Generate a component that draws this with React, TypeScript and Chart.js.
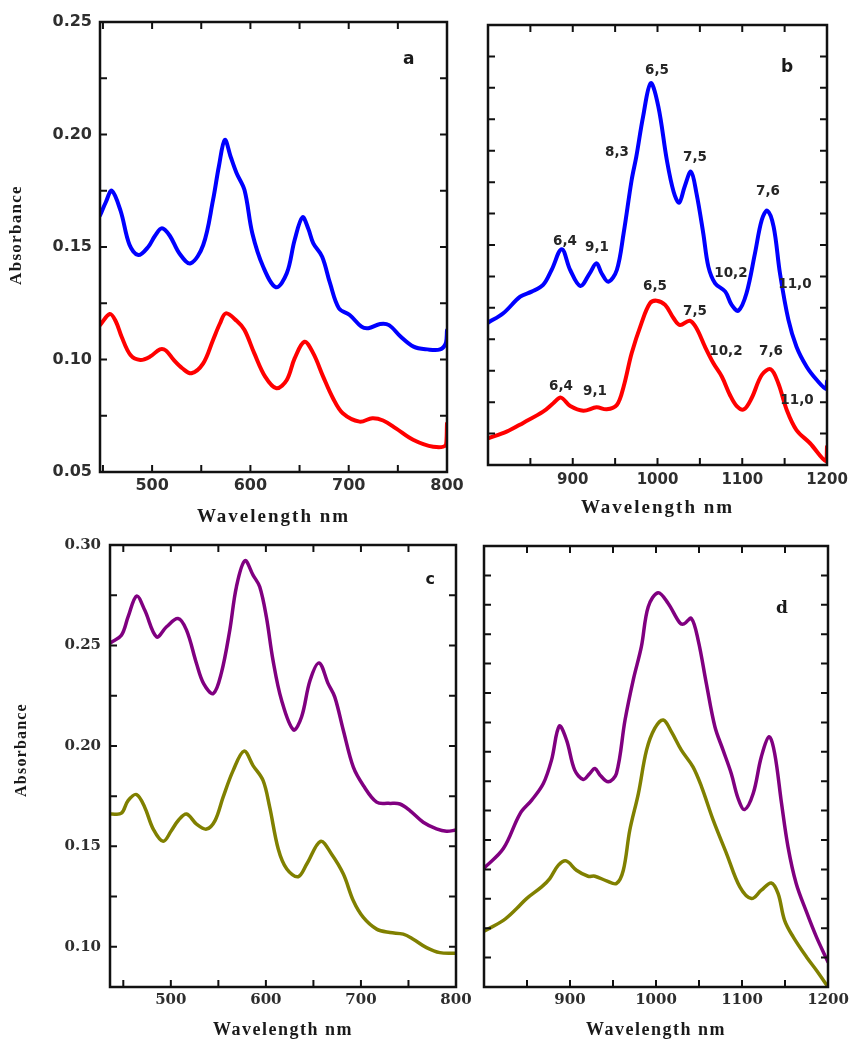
import React, { useEffect, useRef } from "react";
import { Chart, registerables } from "chart.js";

Chart.register(...registerables);

// ---------- (a) visible region, two samples ----------
const aBlueNm = [447, 453, 459, 468, 477, 486, 496, 503, 510, 518, 528, 539, 552, 562, 568, 574, 580, 586, 594, 602, 613, 626, 637, 645, 653, 659, 664, 673, 681, 690, 701, 713, 720, 732, 741, 753, 766, 780, 793, 799, 800];
const aBlueAbs = [0.164, 0.170, 0.175, 0.166, 0.151, 0.1464, 0.150, 0.155, 0.1583, 0.155, 0.147, 0.1427, 0.1509, 0.1709, 0.186, 0.1976, 0.190, 0.1828, 0.1753, 0.156, 0.1412, 0.1321, 0.1383, 0.1531, 0.1632, 0.158, 0.1516, 0.1457, 0.1339, 0.1228, 0.1198, 0.1146, 0.1139, 0.1158, 0.1153, 0.1101, 0.1057, 0.1045, 0.1045, 0.1075, 0.113];
const aRedNm = [447, 457, 463, 469, 478, 488, 498, 508, 514, 522, 531, 540, 552, 562, 569, 575, 586, 594, 604, 615, 626.5, 637, 645, 655, 664, 674, 684, 694, 711, 724, 735, 748, 766, 786, 799, 800];
const aRedAbs = [0.1153, 0.1202, 0.117, 0.1101, 0.102, 0.0998, 0.1013, 0.1045, 0.104, 0.0998, 0.096, 0.0939, 0.0983, 0.1087, 0.116, 0.1205, 0.1172, 0.1131, 0.1027, 0.0924, 0.0872, 0.0909, 0.1005, 0.1079, 0.1027, 0.0924, 0.0828, 0.0761, 0.0724, 0.0739, 0.0729, 0.0694, 0.0642, 0.0612, 0.0621, 0.0716];

// ---------- (b) near-infrared region, two samples ----------
const bBlueNm = [800, 818, 838, 851.5, 865, 875, 887, 897, 909, 920, 928, 934, 942, 952, 960, 969.5, 975, 983, 992, 1001, 1011, 1019, 1025.5, 1032, 1039.5, 1046, 1054, 1060, 1068, 1080, 1087.5, 1095.5, 1105, 1115, 1123, 1129.5, 1137, 1144.5, 1154.5, 1164, 1176, 1188, 1199, 1200];
const bBlueAbs = [0.1632, 0.1707, 0.1839, 0.1879, 0.1932, 0.2051, 0.2216, 0.2051, 0.1924, 0.2025, 0.2105, 0.2025, 0.1958, 0.2051, 0.2343, 0.2767, 0.2953, 0.3271, 0.3537, 0.3351, 0.2926, 0.2674, 0.2587, 0.2714, 0.2833, 0.2661, 0.2343, 0.2078, 0.1945, 0.1879, 0.1773, 0.1728, 0.1866, 0.2184, 0.2449, 0.2523, 0.2396, 0.2025, 0.1654, 0.1441, 0.1282, 0.1176, 0.1105, 0.1166];
const bRedNm = [800, 822, 842, 865, 877, 886, 897, 912.5, 928, 940, 952, 960, 969.5, 981, 991, 999, 1009, 1019, 1026.5, 1038, 1046, 1056, 1066, 1076, 1085.5, 1093.5, 1102, 1111, 1123, 1133.5, 1142.5, 1152.5, 1164, 1180, 1199, 1200];
const bRedAbs = [0.0712, 0.0765, 0.0837, 0.0924, 0.0991, 0.1036, 0.0969, 0.0932, 0.0959, 0.0943, 0.0977, 0.1123, 0.1389, 0.1627, 0.1786, 0.1807, 0.1773, 0.1667, 0.1614, 0.1648, 0.1588, 0.1441, 0.1309, 0.1202, 0.1057, 0.0969, 0.0943, 0.1031, 0.1216, 0.1261, 0.115, 0.0938, 0.0778, 0.0673, 0.053, 0.0646];

// (n,m) assignments written next to the peaks in (b)
const bNoteText = ["6,5", "8,3", "7,5", "7,6", "6,4", "9,1", "10,2", "11,0", "6,5", "7,5", "10,2", "7,6", "6,4", "9,1", "11,0"];
const bNoteNm = [999.4, 952.2, 1044.2, 1130.4, 890.9, 928.6, 1086.7, 1162.2, 997, 1044.2, 1080.8, 1133.9, 886.1, 926.3, 1164.6];
const bNoteAbs = [0.3642, 0.2982, 0.295, 0.2672, 0.2274, 0.2234, 0.2027, 0.1932, 0.1916, 0.1725, 0.1399, 0.1399, 0.1121, 0.1081, 0.1017];

// ---------- (c) visible region, second pair ----------
const cPurpleNm = [437, 448, 455, 464, 472.5, 485, 495.5, 507.5, 516.5, 527, 534.5, 544.5, 553, 562, 569, 578, 586.5, 593.5, 600.5, 607.5, 616.5, 629, 637.5, 646.5, 656, 665.5, 672.5, 681.5, 692, 702.5, 716.5, 729, 741, 751.5, 765.5, 779.5, 790, 800];
const cPurpleAbs = [0.2515, 0.2551, 0.2642, 0.2746, 0.2676, 0.2543, 0.2593, 0.2634, 0.2576, 0.241, 0.231, 0.226, 0.236, 0.2576, 0.2792, 0.2922, 0.285, 0.2792, 0.2642, 0.2426, 0.2227, 0.208, 0.2144, 0.2327, 0.2413, 0.231, 0.2243, 0.2077, 0.1894, 0.1803, 0.172, 0.1714, 0.1711, 0.1678, 0.162, 0.1587, 0.1575, 0.1581];
const cOliveNm = [437, 448, 455, 464, 472.5, 481.5, 492, 500.5, 508, 516.5, 527, 537.5, 546.5, 555, 565.5, 577, 586.5, 597, 604, 613, 622, 634, 643, 657.5, 669, 681.5, 692, 702.5, 716.5, 730.5, 744.5, 755, 769, 783, 800];
const cOliveAbs = [0.1661, 0.1665, 0.1728, 0.1758, 0.1695, 0.1586, 0.1525, 0.1578, 0.163, 0.1661, 0.1611, 0.1586, 0.1628, 0.1745, 0.1877, 0.1974, 0.1902, 0.1828, 0.1695, 0.1487, 0.1387, 0.1349, 0.1412, 0.1525, 0.1462, 0.1362, 0.1229, 0.1146, 0.1088, 0.1071, 0.1063, 0.1038, 0.0996, 0.0971, 0.0968];

// ---------- (d) near-infrared region, second pair ----------
const dPurpleNm = [800, 822.5, 842, 855.5, 869, 878.5, 887.5, 896, 905.5, 915.5, 923, 929, 935, 944.5, 954, 964, 973.5, 983, 991, 1002.5, 1014, 1027.5, 1032.5, 1041, 1049, 1058.5, 1068.5, 1078, 1087.5, 1095.5, 1103, 1113, 1122.5, 1131.5, 1138, 1146, 1153.5, 1163, 1175, 1186.5, 1200];
const dPurpleAbs = [0.176, 0.1927, 0.2225, 0.2339, 0.248, 0.2679, 0.2968, 0.2849, 0.2594, 0.2515, 0.2566, 0.2608, 0.2551, 0.2495, 0.2566, 0.302, 0.336, 0.3644, 0.3984, 0.4103, 0.4013, 0.3848, 0.3837, 0.3885, 0.37, 0.3332, 0.2963, 0.2764, 0.2566, 0.2353, 0.2259, 0.2395, 0.2708, 0.2878, 0.2736, 0.231, 0.1942, 0.163, 0.1388, 0.1176, 0.0963];
const dOliveNm = [800, 822.5, 838, 849.5, 867, 876.5, 886.5, 895.5, 907.5, 921, 929, 942.5, 954, 962, 969.5, 979.5, 989, 998.5, 1008.5, 1018, 1029.5, 1043, 1053, 1066.5, 1082, 1097.5, 1111, 1122.5, 1134, 1142, 1149.5, 1159.5, 1175, 1186.5, 1200];
const dOliveAbs = [0.1225, 0.1317, 0.1417, 0.1502, 0.1601, 0.1672, 0.1786, 0.1822, 0.1743, 0.1692, 0.1692, 0.1652, 0.163, 0.1743, 0.2083, 0.2395, 0.2764, 0.2949, 0.302, 0.292, 0.2764, 0.2622, 0.2452, 0.2169, 0.1885, 0.1601, 0.1502, 0.1573, 0.1635, 0.1544, 0.1317, 0.1176, 0.1005, 0.0892, 0.075];

// ---------- axis tick labels ----------
const aXTicks = [500, 600, 700, 800];
const aYTicks = [0.05, 0.1, 0.15, 0.2, 0.25];
const bXTicks = [900, 1000, 1100, 1200];
const cXTicks = [500, 600, 700, 800];
const cYTicks = [0.1, 0.15, 0.2, 0.25, 0.3];
const dXTicks = [900, 1000, 1100, 1200];

type Series = { nm: number[]; abs: number[]; color: string };
type Note = { text: string; nm: number; abs: number };

type PanelSpec = {
  key: string;
  left: number;
  top: number;
  w: number;
  h: number;
  yWidth: number;
  xHeight: number;
  padTop: number;
  padRight: number;
  xMin: number;
  xMax: number;
  yMin: number;
  yMax: number;
  xTicks: number[];
  yTicks: number[] | null;
  xPad: number;
  yPad: number;
  tickFont: { family: string; size: number; weight: string };
  lineWidth: number;
  series: Series[];
  letter: string;
  letterNm: number;
  letterAbs: number;
  letterFont: string;
  xTitleOffset: number;
  xTitleFont: string;
  xTitleSpacing: number;
  yTitle: boolean;
  yTitleOffset: number;
  yTitleShift: number;
  yTitleFont: string;
  yTitleSpacing: number;
  notes: Note[];
};

const BLUE = "#0000ff";
const RED = "#ff0000";
const PURPLE = "#800080";
const OLIVE = "#808000";

const sansTicks = { family: "'DejaVu Sans', sans-serif", size: 16, weight: "bold" };
const sansTicksB = { family: "'DejaVu Sans', sans-serif", size: 15, weight: "bold" };
const serifTicks = { family: "'DejaVu Serif', serif", size: 15, weight: "bold" };

const bNotes: Note[] = bNoteText.map((text, i) => ({ text, nm: bNoteNm[i], abs: bNoteAbs[i] }));

const panels: PanelSpec[] = [
  {
    key: "a", left: 0, top: 0, w: 475, h: 530,
    yWidth: 100, xHeight: 58, padTop: 22, padRight: 28,
    xMin: 447, xMax: 800, yMin: 0.05, yMax: 0.25,
    xTicks: aXTicks, yTicks: aYTicks, xPad: 4, yPad: 8,
    tickFont: sansTicks, lineWidth: 4,
    series: [
      { nm: aBlueNm, abs: aBlueAbs, color: BLUE },
      { nm: aRedNm, abs: aRedAbs, color: RED },
    ],
    letter: "a", letterNm: 761, letterAbs: 0.2331, letterFont: "bold 17px 'DejaVu Sans', sans-serif",
    xTitleOffset: 45, xTitleFont: "bold 19px 'Liberation Serif', serif", xTitleSpacing: 2,
    yTitle: true, yTitleOffset: 83, yTitleShift: -12, yTitleFont: "bold 17px 'Liberation Serif', serif", yTitleSpacing: 1.3,
    notes: [],
  },
  {
    key: "b", left: 465, top: 0, w: 386, h: 530,
    yWidth: 23, xHeight: 65, padTop: 25, padRight: 24,
    xMin: 800, xMax: 1200, yMin: 0.05, yMax: 0.4,
    xTicks: bXTicks, yTicks: null, xPad: 6, yPad: 8,
    tickFont: sansTicksB, lineWidth: 4,
    series: [
      { nm: bBlueNm, abs: bBlueAbs, color: BLUE },
      { nm: bRedNm, abs: bRedAbs, color: RED },
    ],
    letter: "b", letterNm: 1152.8, letterAbs: 0.3658, letterFont: "bold 17px 'DejaVu Sans', sans-serif",
    xTitleOffset: 43, xTitleFont: "bold 19px 'Liberation Serif', serif", xTitleSpacing: 2,
    yTitle: false, yTitleOffset: 0, yTitleShift: 0, yTitleFont: "", yTitleSpacing: 0,
    notes: bNotes,
  },
  {
    key: "c", left: 0, top: 530, w: 475, h: 515,
    yWidth: 110, xHeight: 58, padTop: 15, padRight: 19,
    xMin: 436, xMax: 800, yMin: 0.08, yMax: 0.3,
    xTicks: cXTicks, yTicks: cYTicks, xPad: 4, yPad: 9,
    tickFont: serifTicks, lineWidth: 3.5,
    series: [
      { nm: cPurpleNm, abs: cPurpleAbs, color: PURPLE },
      { nm: cOliveNm, abs: cOliveAbs, color: OLIVE },
    ],
    letter: "c", letterNm: 772.8, letterAbs: 0.2826, letterFont: "bold 16px 'DejaVu Sans', sans-serif",
    xTitleOffset: 43, xTitleFont: "bold 18px 'Liberation Serif', serif", xTitleSpacing: 1.5,
    yTitle: true, yTitleOffset: 88, yTitleShift: -16, yTitleFont: "bold 16px 'Liberation Serif', serif", yTitleSpacing: 1.2,
    notes: [],
  },
  {
    key: "d", left: 465, top: 530, w: 386, h: 515,
    yWidth: 19, xHeight: 58, padTop: 16, padRight: 23,
    xMin: 800, xMax: 1200, yMin: 0.075, yMax: 0.45,
    xTicks: dXTicks, yTicks: null, xPad: 4, yPad: 8,
    tickFont: serifTicks, lineWidth: 3.5,
    series: [
      { nm: dPurpleNm, abs: dPurpleAbs, color: PURPLE },
      { nm: dOliveNm, abs: dOliveAbs, color: OLIVE },
    ],
    letter: "d", letterNm: 1146.5, letterAbs: 0.3964, letterFont: "bold 17px 'DejaVu Serif', serif",
    xTitleOffset: 43, xTitleFont: "bold 18px 'Liberation Serif', serif", xTitleSpacing: 1.5,
    yTitle: false, yTitleOffset: 0, yTitleShift: 0, yTitleFont: "", yTitleSpacing: 0,
    notes: [],
  },
];

// Closed frame around the plot area with inward tick marks on all four sides
function framePlugin(xStep: number, yStep: number) {
  return {
    id: "frameTicks",
    afterDraw(chart: any) {
      const { ctx, chartArea: ca, scales } = chart;
      const x = scales.x;
      const y = scales.y;
      const len = 7;
      ctx.save();
      ctx.strokeStyle = "#111";
      ctx.lineWidth = 2;
      ctx.beginPath();
      const xi0 = Math.ceil(x.min / xStep - 1e-6);
      const xi1 = Math.floor(x.max / xStep + 1e-6);
      for (let i = xi0; i <= xi1; i++) {
        const px = x.getPixelForValue(i * xStep);
        ctx.moveTo(px, ca.bottom);
        ctx.lineTo(px, ca.bottom - len);
        ctx.moveTo(px, ca.top);
        ctx.lineTo(px, ca.top + len);
      }
      const yi0 = Math.ceil(y.min / yStep - 1e-6);
      const yi1 = Math.floor(y.max / yStep + 1e-6);
      for (let i = yi0; i <= yi1; i++) {
        const py = y.getPixelForValue(i * yStep);
        ctx.moveTo(ca.left, py);
        ctx.lineTo(ca.left + len, py);
        ctx.moveTo(ca.right, py);
        ctx.lineTo(ca.right - len, py);
      }
      ctx.stroke();
      ctx.lineWidth = 2.5;
      ctx.strokeRect(ca.left, ca.top, ca.right - ca.left, ca.bottom - ca.top);
      ctx.restore();
    },
  };
}

// Axis titles, panel letter and peak assignments
function textPlugin(spec: PanelSpec) {
  return {
    id: "panelText",
    afterDraw(chart: any) {
      const { ctx, chartArea: ca, scales } = chart;
      const x = scales.x;
      const y = scales.y;
      ctx.save();
      ctx.fillStyle = "#1a1a1a";
      ctx.textAlign = "center";
      ctx.textBaseline = "middle";

      ctx.font = spec.xTitleFont;
      (ctx as any).letterSpacing = spec.xTitleSpacing + "px";
      ctx.fillText("Wavelength nm", (ca.left + ca.right) / 2, ca.bottom + spec.xTitleOffset);

      if (spec.yTitle) {
        ctx.save();
        ctx.font = spec.yTitleFont;
        (ctx as any).letterSpacing = spec.yTitleSpacing + "px";
        ctx.translate(ca.left - spec.yTitleOffset, (ca.top + ca.bottom) / 2 + spec.yTitleShift);
        ctx.rotate(-Math.PI / 2);
        ctx.fillText("Absorbance", 0, 0);
        ctx.restore();
      }

      (ctx as any).letterSpacing = "0px";
      ctx.font = spec.letterFont;
      ctx.fillText(spec.letter, x.getPixelForValue(spec.letterNm), y.getPixelForValue(spec.letterAbs));

      ctx.fillStyle = "#262626";
      ctx.font = "bold 13.5px 'DejaVu Sans', sans-serif";
      for (const n of spec.notes) {
        ctx.fillText(n.text, x.getPixelForValue(n.nm), y.getPixelForValue(n.abs));
      }
      ctx.restore();
    },
  };
}

function buildConfig(spec: PanelSpec): any {
  const tickColor = "#2e2e2e";
  return {
    type: "line",
    data: {
      datasets: spec.series.map((s) => ({
        data: s.nm.map((nm, i) => ({ x: nm, y: s.abs[i] })),
        borderColor: s.color,
        backgroundColor: s.color,
        borderWidth: spec.lineWidth,
        pointRadius: 0,
        tension: 0.35,
        fill: false,
        borderJoinStyle: "round",
        borderCapStyle: "round",
      })),
    },
    options: {
      animation: false,
      responsive: false,
      maintainAspectRatio: false,
      events: [],
      layout: {
        autoPadding: false,
        padding: { left: 0, top: spec.padTop, right: spec.padRight, bottom: 0 },
      },
      plugins: {
        legend: { display: false },
        tooltip: { enabled: false },
        title: { display: false },
      },
      scales: {
        x: {
          type: "linear",
          min: spec.xMin,
          max: spec.xMax,
          grid: { display: false, drawTicks: false },
          border: { display: false },
          ticks: {
            autoSkip: false,
            maxRotation: 0,
            minRotation: 0,
            padding: spec.xPad,
            color: tickColor,
            font: spec.tickFont,
            callback: (v: number) => String(Math.round(v)),
          },
          afterBuildTicks: (scale: any) => {
            scale.ticks = spec.xTicks.map((v) => ({ value: v }));
          },
          afterFit: (scale: any) => {
            scale.height = spec.xHeight;
            scale.paddingLeft = 0;
            scale.paddingRight = 0;
          },
        },
        y: {
          type: "linear",
          min: spec.yMin,
          max: spec.yMax,
          grid: { display: false, drawTicks: false },
          border: { display: false },
          ticks: {
            display: spec.yTicks !== null,
            autoSkip: false,
            padding: spec.yPad,
            color: tickColor,
            font: spec.tickFont,
            callback: (v: number) => v.toFixed(2),
          },
          afterBuildTicks: (scale: any) => {
            if (spec.yTicks) scale.ticks = spec.yTicks.map((v) => ({ value: v }));
          },
          afterFit: (scale: any) => {
            scale.width = spec.yWidth;
            scale.paddingTop = 0;
            scale.paddingBottom = 0;
          },
        },
      },
    },
    plugins: [framePlugin(50, 0.025), textPlugin(spec)],
  };
}

function Panel({ spec }: { spec: PanelSpec }) {
  const ref = useRef<HTMLCanvasElement>(null);
  useEffect(() => {
    if (!ref.current) return;
    const chart = new Chart(ref.current, buildConfig(spec));
    return () => chart.destroy();
  }, [spec]);
  return (
    <canvas
      ref={ref}
      width={spec.w}
      height={spec.h}
      style={{ position: "absolute", left: spec.left, top: spec.top, width: spec.w, height: spec.h }}
    />
  );
}

export default function App() {
  return (
    <div
      style={{
        position: "absolute",
        left: 0,
        top: 0,
        width: 851,
        height: 1045,
        background: "#ffffff",
        overflow: "hidden",
      }}
    >
      {panels.map((p) => (
        <Panel key={p.key} spec={p} />
      ))}
    </div>
  );
}
